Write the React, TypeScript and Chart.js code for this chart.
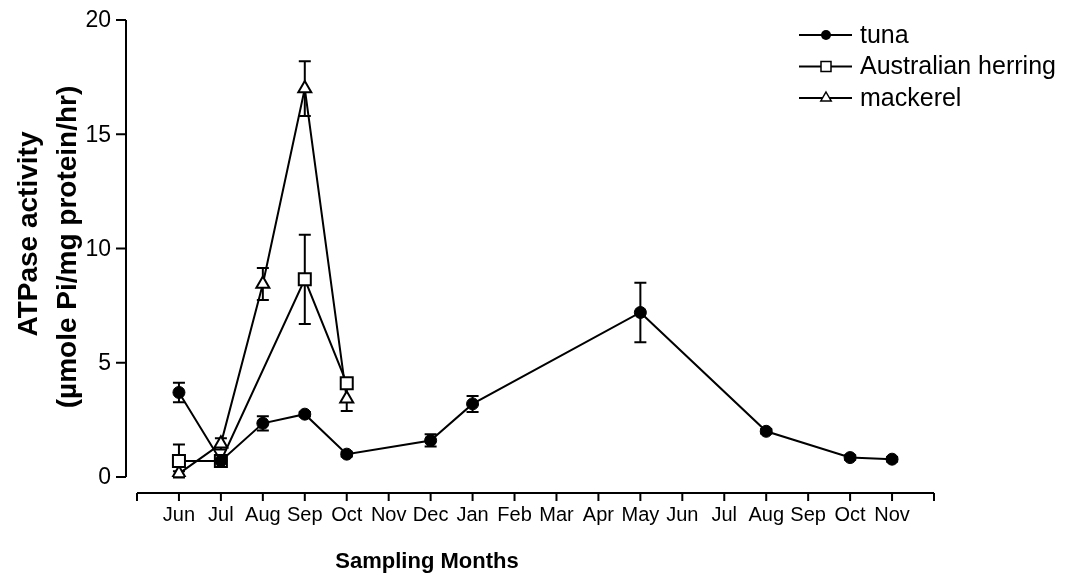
import { useEffect, useRef } from 'react';
import { Chart, registerables } from 'chart.js';

Chart.register(...registerables);

// Sampling months (two consecutive seasons)
const months = ['Jun', 'Jul', 'Aug', 'Sep', 'Oct', 'Nov', 'Dec', 'Jan', 'Feb', 'Mar', 'Apr', 'May', 'Jun', 'Jul', 'Aug', 'Sep', 'Oct', 'Nov'];

// Mean ATPase activity and error (± SE) per sampling month; null = not sampled
const tunaMean = [3.7, 0.7, 2.35, 2.75, 1.0, null, 1.6, 3.2, null, null, null, 7.2, null, null, 2.0, null, 0.85, 0.78];
const tunaErr = [0.43, 0.1, 0.31, 0.1, 0.1, null, 0.27, 0.35, null, null, null, 1.3, null, null, 0.1, null, 0.1, 0.1];

const herringMean = [0.7, 0.7, null, 8.65, 4.1];
const herringErr = [0.72, 0.1, null, 1.95, 0.15];

const mackerelMean = [0.15, 1.45, 8.45, 17.0, 3.42];
const mackerelErr = [0.1, 0.25, 0.7, 1.2, 0.53];

const yTicks = [0, 5, 10, 15, 20];
const seriesNames = ['tuna', 'Australian herring', 'mackerel'];

const FONT = '"Liberation Sans", Arial, Helvetica, sans-serif';

type Pt = { x: number; y: number; err: number | null };

function toPoints(means: (number | null)[], errs: (number | null)[]): Pt[] {
  const out: Pt[] = [];
  means.forEach((m, i) => {
    if (m !== null && m !== undefined) out.push({ x: i, y: m, err: errs[i] ?? null });
  });
  return out;
}

// Vertical error bars with caps, drawn underneath the series
const errorBarsPlugin = {
  id: 'errorBars',
  beforeDatasetsDraw(chart: any) {
    const { ctx } = chart;
    const xs = chart.scales.x;
    const ys = chart.scales.y;
    ctx.save();
    ctx.strokeStyle = '#000';
    ctx.lineWidth = 2;
    chart.data.datasets.forEach((ds: any) => {
      ds.data.forEach((p: Pt) => {
        if (!p.err) return;
        const px = xs.getPixelForValue(p.x);
        const top = ys.getPixelForValue(p.y + p.err);
        const bot = ys.getPixelForValue(p.y - p.err);
        ctx.beginPath();
        ctx.moveTo(px, top);
        ctx.lineTo(px, bot);
        ctx.moveTo(px - 6, top);
        ctx.lineTo(px + 6, top);
        ctx.moveTo(px - 6, bot);
        ctx.lineTo(px + 6, bot);
        ctx.stroke();
      });
    });
    ctx.restore();
  },
};

function drawMarker(ctx: CanvasRenderingContext2D, style: string, x: number, y: number, r: number) {
  ctx.beginPath();
  if (style === 'circle') {
    ctx.arc(x, y, r, 0, Math.PI * 2);
    ctx.fillStyle = '#000';
    ctx.fill();
    return;
  }
  if (style === 'rect') {
    ctx.rect(x - r, y - r, 2 * r, 2 * r);
  } else {
    ctx.moveTo(x, y - r);
    ctx.lineTo(x + 0.866 * r, y + 0.5 * r);
    ctx.lineTo(x - 0.866 * r, y + 0.5 * r);
    ctx.closePath();
  }
  ctx.fillStyle = '#fff';
  ctx.fill();
  ctx.lineWidth = 1.5;
  ctx.strokeStyle = '#000';
  ctx.stroke();
}

// Detached Prism-style axes, tick labels, titles and legend
const framePlugin = {
  id: 'frame',
  afterDraw(chart: any) {
    const { ctx, chartArea } = chart;
    const xs = chart.scales.x;
    const ys = chart.scales.y;
    ctx.save();
    ctx.strokeStyle = '#000';
    ctx.fillStyle = '#000';
    ctx.lineWidth = 2;

    // y axis
    const yAxisX = chartArea.left - 11;
    ctx.beginPath();
    ctx.moveTo(yAxisX, ys.getPixelForValue(20));
    ctx.lineTo(yAxisX, ys.getPixelForValue(0));
    yTicks.forEach((t) => {
      const py = ys.getPixelForValue(t);
      ctx.moveTo(yAxisX - 10, py);
      ctx.lineTo(yAxisX, py);
    });
    ctx.stroke();
    ctx.font = `23px ${FONT}`;
    ctx.textAlign = 'right';
    ctx.textBaseline = 'middle';
    yTicks.forEach((t) => {
      ctx.fillText(String(t), yAxisX - 15, ys.getPixelForValue(t) + 1);
    });

    // x axis
    const xAxisY = chartArea.bottom + 16;
    ctx.beginPath();
    ctx.moveTo(xs.getPixelForValue(-1), xAxisY);
    ctx.lineTo(xs.getPixelForValue(months.length), xAxisY);
    for (let i = -1; i <= months.length; i++) {
      const px = xs.getPixelForValue(i);
      ctx.moveTo(px, xAxisY);
      ctx.lineTo(px, xAxisY + 8);
    }
    ctx.stroke();
    ctx.font = `20px ${FONT}`;
    ctx.textAlign = 'center';
    ctx.textBaseline = 'alphabetic';
    months.forEach((m, i) => {
      ctx.fillText(m, xs.getPixelForValue(i), xAxisY + 28);
    });

    // axis titles
    ctx.font = `bold 22px ${FONT}`;
    ctx.textAlign = 'center';
    ctx.fillText('Sampling Months', 427, 568);

    ctx.font = `bold 28px ${FONT}`;
    ctx.save();
    ctx.translate(37, 234);
    ctx.rotate(-Math.PI / 2);
    ctx.fillText('ATPase activity', 0, 0);
    ctx.restore();
    ctx.save();
    ctx.translate(76, 247);
    ctx.rotate(-Math.PI / 2);
    ctx.fillText('(µmole Pi/mg protein/hr)', 0, 0);
    ctx.restore();

    // legend
    const styles = ['circle', 'rect', 'triangle'];
    const sizes = [5, 5, 6];
    const rows = [35, 66.5, 98];
    ctx.font = `25px ${FONT}`;
    ctx.textAlign = 'left';
    ctx.textBaseline = 'middle';
    seriesNames.forEach((name, i) => {
      const ry = rows[i];
      ctx.beginPath();
      ctx.lineWidth = 2;
      ctx.strokeStyle = '#000';
      ctx.moveTo(799, ry);
      ctx.lineTo(852, ry);
      ctx.stroke();
      drawMarker(ctx, styles[i], 826, ry, sizes[i]);
      ctx.fillStyle = '#000';
      ctx.fillText(name, 860, ry + 1);
    });

    ctx.restore();
  },
};

export default function App() {
  const canvasRef = useRef<HTMLCanvasElement>(null);

  useEffect(() => {
    document.body.style.margin = '0';
    const canvas = canvasRef.current;
    if (!canvas) return;

    const common = {
      borderColor: '#000',
      borderWidth: 2,
      pointBorderColor: '#000',
      tension: 0,
      fill: false,
    };

    const chart = new Chart(canvas, {
      type: 'line',
      data: {
        datasets: [
          {
            ...common,
            label: seriesNames[0],
            data: toPoints(tunaMean, tunaErr),
            pointStyle: 'circle',
            pointRadius: 6,
            pointBackgroundColor: '#000',
            pointBorderWidth: 1,
          },
          {
            ...common,
            label: seriesNames[1],
            data: toPoints(herringMean, herringErr),
            pointStyle: 'rect',
            pointRadius: 8.5,
            pointBackgroundColor: '#fff',
            pointBorderWidth: 2,
          },
          {
            ...common,
            label: seriesNames[2],
            data: toPoints(mackerelMean, mackerelErr),
            pointStyle: 'triangle',
            pointRadius: 7.5,
            pointBackgroundColor: '#fff',
            pointBorderWidth: 2,
          },
        ] as any,
      },
      options: {
        responsive: false,
        animation: false,
        layout: { padding: { left: 137, right: 136, top: 20, bottom: 109 } },
        scales: {
          x: { type: 'linear', min: -1, max: months.length, display: false },
          y: { type: 'linear', min: 0, max: 20, display: false },
        },
        plugins: {
          legend: { display: false },
          tooltip: { enabled: false },
        },
      },
      plugins: [errorBarsPlugin, framePlugin],
    });

    return () => chart.destroy();
  }, []);

  return (
    <div style={{ width: 1070, height: 586 }}>
      <canvas ref={canvasRef} width={1070} height={586} style={{ display: 'block' }} />
    </div>
  );
}
